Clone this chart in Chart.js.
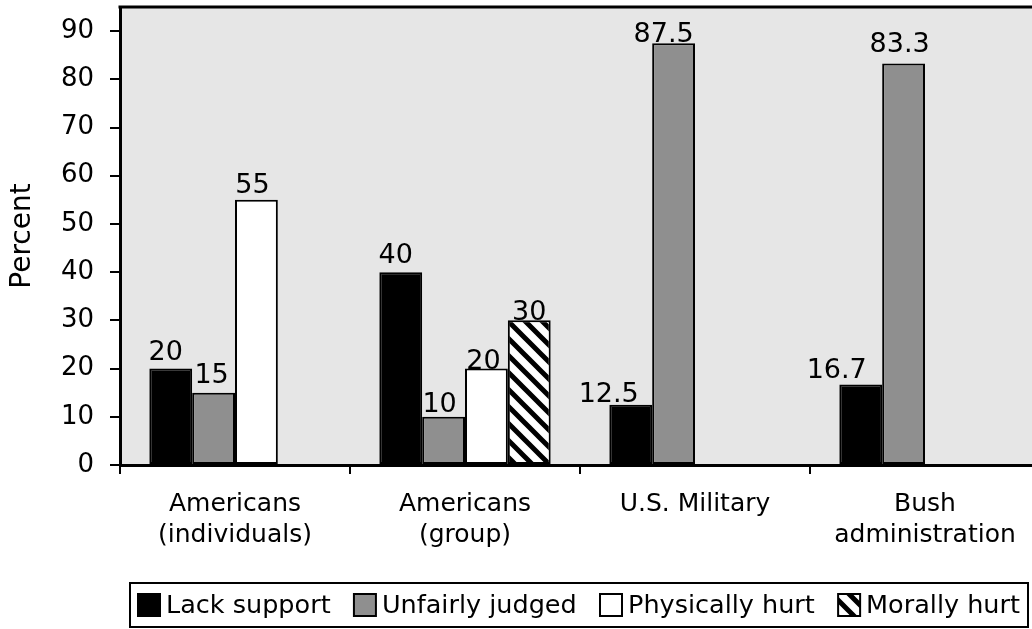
<!DOCTYPE html>
<html>
<head>
<meta charset="utf-8">
<script src="https://cdn.jsdelivr.net/npm/chart.js@4.4.1/dist/chart.umd.min.js"></script>
<style>
html, body { margin: 0; padding: 0; background: #fff; overflow: hidden; }
#wrap { width: 1045px; height: 629px; position: relative; }
</style>
</head>
<body>
<div id="wrap"><canvas id="barChart"></canvas></div>
<script>
// values
var categories = [['Americans', '(individuals)'], ['Americans', '(group)'], 'U.S. Military', ['Bush', 'administration']];
var seriesNames = ['Lack support', 'Unfairly judged', 'Physically hurt', 'Morally hurt'];
var lackSupport = [20, 40, 12.5, 16.7];
var unfairlyJudged = [15, 10, 87.5, 83.3];
var physicallyHurt = [55, 20, null, null];
var morallyHurt = [null, 30, null, null];
var yTickValues = [0, 10, 20, 30, 40, 50, 60, 70, 80, 90];

var FONT = '"DejaVu Sans", "Noto Sans", sans-serif';

function makeHatch() {
    var n = 17;
    var c = document.createElement('canvas');
    c.width = n; c.height = n;
    var g = c.getContext('2d');
    g.fillStyle = '#fff';
    g.fillRect(0, 0, n, n);
    g.strokeStyle = '#000';
    g.lineWidth = 5;
    g.beginPath();
    g.moveTo(-5, -5); g.lineTo(n + 5, n + 5);
    g.moveTo(-5, n - 5); g.lineTo(5, n + 5);
    g.moveTo(n - 5, -5); g.lineTo(n + 5, 5);
    g.stroke();
    return g.createPattern(c, 'repeat');
}

// grey plot area + top border
var plotFrame = {
    id: 'plotFrame',
    beforeDraw: function(chart) {
        var a = chart.chartArea, ctx = chart.ctx;
        ctx.save();
        ctx.fillStyle = '#e6e6e6';
        ctx.fillRect(a.left, a.top, a.right - a.left, a.bottom - a.top);
        ctx.restore();
    },
    afterDraw: function(chart) {
        var a = chart.chartArea, ctx = chart.ctx;
        ctx.save();
        ctx.strokeStyle = '#000';
        ctx.lineWidth = 3;
        ctx.beginPath();
        ctx.moveTo(a.left - 1.5, a.top);
        ctx.lineTo(a.right, a.top);
        ctx.lineTo(a.right, a.bottom);
        ctx.stroke();
        ctx.restore();
    }
};

// value labels above bars
var valueLabels = {
    id: 'valueLabels',
    afterDatasetsDraw: function(chart, args, opts) {
        var ctx = chart.ctx;
        ctx.save();
        ctx.font = '27px ' + FONT;
        ctx.fillStyle = '#000';
        ctx.textAlign = 'center';
        ctx.textBaseline = 'alphabetic';
        chart.data.datasets.forEach(function(ds, di) {
            var meta = chart.getDatasetMeta(di);
            meta.data.forEach(function(bar, i) {
                var v = ds.data[i];
                if (v === null || v === undefined) return;
                var o = opts.adjust[di + ':' + i] || {};
                var dx = o.dx || 0;
                var gap = o.gap !== undefined ? o.gap : 8;
                ctx.fillText(String(v), bar.x + dx, bar.y - gap);
            });
        });
        ctx.restore();
    }
};

// legend in a framed box under the axis
var boxLegend = {
    id: 'boxLegend',
    afterDraw: function(chart, args, opts) {
        var ctx = chart.ctx;
        var ds = chart.data.datasets;
        var sq = 22, gap = 6, pad = 8;
        ctx.save();
        ctx.font = '25.5px ' + FONT;
        var widths = ds.map(function(d) { return ctx.measureText(d.label).width; });
        var content = widths.reduce(function(s, w) { return s + w; }, 0) + ds.length * (sq + gap);
        var spacing = (opts.right - opts.left - 2 * pad - content) / (ds.length - 1);
        ctx.strokeStyle = '#000';
        ctx.lineWidth = 2;
        ctx.strokeRect(opts.left, opts.top, opts.right - opts.left, opts.bottom - opts.top);
        var cy = (opts.top + opts.bottom) / 2;
        var x = opts.left + pad;
        ctx.textBaseline = 'middle';
        ctx.textAlign = 'left';
        ds.forEach(function(d, i) {
            ctx.fillStyle = d.backgroundColor;
            ctx.fillRect(x, cy - sq / 2, sq, sq);
            ctx.lineWidth = 2;
            ctx.strokeStyle = '#000';
            ctx.strokeRect(x, cy - sq / 2, sq, sq);
            ctx.fillStyle = '#000';
            ctx.fillText(d.label, x + sq + gap, cy + 1);
            x += sq + gap + widths[i] + spacing;
        });
        ctx.restore();
    }
};

var hatch = makeHatch();
var ctx = document.getElementById('barChart').getContext('2d');
var chart = new Chart(ctx, {
    type: 'bar',
    data: {
        labels: categories,
        datasets: [
            { label: seriesNames[0], data: lackSupport, backgroundColor: '#000000' },
            { label: seriesNames[1], data: unfairlyJudged, backgroundColor: '#8f8f8f' },
            { label: seriesNames[2], data: physicallyHurt, backgroundColor: '#ffffff' },
            { label: seriesNames[3], data: morallyHurt, backgroundColor: hatch }
        ]
    },
    options: {
        responsive: true,
        maintainAspectRatio: false,
        animation: false,
        layout: { padding: { top: 7, right: 5, left: 0, bottom: 0 } },
        datasets: {
            bar: {
                borderColor: '#000',
                borderWidth: 2,
                borderSkipped: false,
                categoryPercentage: 0.745,
                barPercentage: 1.0
            }
        },
        plugins: {
            legend: { display: false },
            tooltip: { enabled: false },
            valueLabels: {
                adjust: {
                    '0:0': { dx: -5, gap: 9 },
                    '0:1': { dx: -5, gap: 9 },
                    '0:2': { dx: -22, gap: 3 },
                    '0:3': { dx: -24, gap: 6 },
                    '1:0': { dx: -2, gap: 10 },
                    '1:1': { dx: -4, gap: 5 },
                    '1:2': { dx: -10, gap: 1 },
                    '1:3': { dx: -4, gap: 11 },
                    '2:0': { dx: -4, gap: 7 },
                    '2:1': { dx: -3, gap: 0 },
                    '3:1': { dx: 0, gap: 0 }
                }
            },
            boxLegend: { left: 130, right: 1028, top: 583, bottom: 627 }
        },
        scales: {
            x: {
                offset: true,
                grid: {
                    offset: true,
                    drawOnChartArea: false,
                    drawTicks: true,
                    tickLength: 9,
                    color: '#000',
                    lineWidth: 2
                },
                border: { display: true, color: '#000', width: 3 },
                ticks: {
                    color: '#000',
                    padding: 15,
                    maxRotation: 0,
                    autoSkip: false,
                    font: { family: FONT, size: 25, lineHeight: 1.25 }
                },
                afterFit: function(s) {
                    s.height = 164;
                    s.paddingLeft = 0;
                    s.paddingRight = 0;
                }
            },
            y: {
                min: 0,
                max: 95,
                afterBuildTicks: function(s) {
                    s.ticks = yTickValues.map(function(v) { return { value: v }; });
                },
                grid: {
                    drawOnChartArea: false,
                    drawTicks: true,
                    tickLength: 10,
                    color: '#000',
                    lineWidth: 2
                },
                border: { display: true, color: '#000', width: 3 },
                ticks: {
                    color: '#000',
                    padding: 16,
                    font: { family: FONT, size: 26 }
                },
                title: {
                    display: true,
                    text: 'Percent',
                    color: '#000',
                    padding: { top: 6, bottom: 0 },
                    font: { family: FONT, size: 28 }
                },
                afterFit: function(s) {
                    s.width = 120;
                    s.paddingTop = 0;
                    s.paddingBottom = 0;
                }
            }
        }
    },
    plugins: [plotFrame, valueLabels, boxLegend]
});
</script>
</body>
</html>
